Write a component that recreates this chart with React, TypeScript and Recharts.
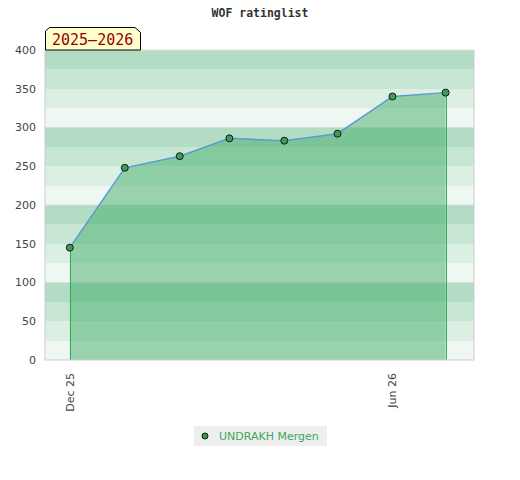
import React from 'react';
import { ComposedChart, Area, XAxis, YAxis, CartesianGrid, ReferenceLine } from 'recharts';

const dates = ['2025-12-01', '2026-01-01', '2026-02-01', '2026-03-01', '2026-04-01', '2026-05-01', '2026-06-01', '2026-07-01'];
const ratings = [145, 248, 263, 286, 283, 292, 340, 345];
const xDomainDates = ['2025-11-17', '2026-07-17'];
const xTickDates = ['2025-12-01', '2026-06-01'];
const xTickLabels = ['Dec 25', 'Jun 26'];
const leftTicks = [0, 50, 100, 150, 200, 250, 300, 350, 400];
const rightTicks = [
  0, 10, 20, 30, 40, 50, 60, 70, 80, 90, 100, 110, 120, 130, 140, 150, 160, 170, 180, 190, 200,
  210, 220, 230, 240, 250, 260, 270, 280, 290, 300, 310, 320, 330, 340, 350, 360, 370, 380, 390, 400,
];
const bandValues = [0, 25, 50, 75, 100, 125, 150, 175, 200, 225, 250, 275, 300, 325, 350, 375, 400];
const gridValues = [100, 200, 300, 400];
// stripes from the top down, repeating every 100
const bandColors = ['#b3dcc4', '#c8e6d4', '#dcefe3', '#eff7f2'];
const playerName = 'UNDRAKH Mergen';
const seasonLabel = '2025–2026';
const chartTitle = 'WOF ratinglist';

const ts = (d: string) => Date.parse(d + 'T00:00:00Z');

const data = dates.map((d, i) => ({ t: ts(d), rating: ratings[i] }));

const FONT = '"DejaVu Sans", sans-serif';

function XTick(props: any) {
  const { x, y, payload } = props;
  const idx = xTickDates.map(ts).indexOf(payload.value);
  return (
    <text
      transform={`translate(${x},${y + 13}) rotate(-90)`}
      x={0}
      y={4}
      textAnchor="end"
      fontSize={11}
      fill="#444"
      fontFamily={FONT}
    >
      {idx >= 0 ? xTickLabels[idx] : ''}
    </text>
  );
}

function RightTick(props: any) {
  const { x, y, payload } = props;
  const major = payload.value % 50 === 0;
  return (
    <g>
      <line x1={major ? x - 4 : x - 2} x2={x + 2} y1={y} y2={y} stroke="#222" strokeWidth={1} />
      {major && (
        <text x={x + 8} y={y + 4} fontSize={11} fill="#222" fontFamily={FONT}>
          {payload.value}
        </text>
      )}
    </g>
  );
}

function Dot(props: any) {
  const { cx, cy } = props;
  if (cx == null || cy == null) return null;
  return <circle cx={cx} cy={cy} r={3.5} fill="#3a9d5d" stroke="#1a1a1a" strokeWidth={1} />;
}

function EdgeLine(props: any) {
  const { x1, y1, x2, y2 } = props;
  return (
    <line
      x1={Math.round(x1) + 0.5}
      y1={y1}
      x2={Math.round(x2) + 0.5}
      y2={y2}
      stroke="#34ab5a"
      strokeWidth={1}
    />
  );
}

export default function App() {
  const first = data[0];
  const last = data[data.length - 1];
  return (
    <div style={{ position: 'relative', width: 504, height: 460 }}>
      <ComposedChart
        width={504}
        height={410}
        data={data}
        margin={{ top: 42, right: 0, bottom: 0, left: 0 }}
        style={{ fontFamily: FONT }}
      >
        <CartesianGrid
          vertical={false}
          horizontalValues={bandValues}
          horizontalFill={bandColors}
          fillOpacity={1}
          stroke="none"
        />
        <CartesianGrid vertical={false} horizontalValues={gridValues} stroke="#dddddd" />
        <XAxis
          dataKey="t"
          type="number"
          scale="time"
          domain={xDomainDates.map(ts)}
          ticks={xTickDates.map(ts)}
          interval={0}
          height={58}
          tickSize={0}
          tickMargin={0}
          tick={<XTick />}
          axisLine={{ stroke: '#cccccc' }}
          tickLine={false}
          allowDataOverflow
        />
        <YAxis
          domain={[0, 400]}
          ticks={leftTicks}
          interval={0}
          width={37}
          tickSize={0}
          tickMargin={9}
          tickLine={false}
          axisLine={{ stroke: '#cccccc' }}
          tick={{ fontSize: 11, fill: '#444', fontFamily: FONT }}
        />
        <YAxis
          yAxisId="right"
          orientation="right"
          domain={[0, 400]}
          ticks={rightTicks}
          interval={0}
          width={38}
          tickSize={0}
          tickMargin={0}
          tickLine={false}
          axisLine={{ stroke: '#cccccc' }}
          tick={<RightTick />}
        />
        <Area
          dataKey="rating"
          type="linear"
          stroke="#5b9bd5"
          strokeWidth={1.5}
          fill="#3da964"
          fillOpacity={0.48}
          dot={<Dot />}
          activeDot={false}
          isAnimationActive={false}
        />
        <ReferenceLine
          segment={[{ x: first.t, y: 0 }, { x: first.t, y: first.rating }]}
          shape={<EdgeLine />}
        />
        <ReferenceLine
          segment={[{ x: last.t, y: 0 }, { x: last.t, y: last.rating }]}
          shape={<EdgeLine />}
        />
      </ComposedChart>

      <svg
        width={520}
        height={70}
        style={{ position: 'absolute', left: -8, top: -8, pointerEvents: 'none' }}
      >
        <text
          x={260}
          y={17}
          textAnchor="middle"
          fontSize={11.5}
          fontWeight="bold"
          fill="#333"
          fontFamily='"DejaVu Sans Mono", monospace'
        >
          {chartTitle}
        </text>
        <polygon
          points="45.5,50 45.5,31 49.5,27.5 135,27.5 140.5,32.5 140.5,50"
          fill="#ffffcc"
          stroke="#000"
          strokeWidth={1}
        />
        <text x={52} y={45} fontSize={15} fill="#990000" fontFamily='"DejaVu Sans Mono", monospace'>
          {seasonLabel}
        </text>
      </svg>

      <div
        style={{
          position: 'absolute',
          left: 186,
          top: 418,
          width: 133,
          height: 20,
          background: '#eeeeee',
          display: 'flex',
          alignItems: 'center',
          fontFamily: FONT,
          fontSize: 11,
          color: '#3aa85c',
        }}
      >
        <svg width={22} height={20} style={{ flex: 'none' }}>
          <circle cx={11} cy={10} r={3} fill="#2e9e55" stroke="#111" strokeWidth={1} />
        </svg>
        <span style={{ marginLeft: 3 }}>{playerName}</span>
      </div>
    </div>
  );
}
